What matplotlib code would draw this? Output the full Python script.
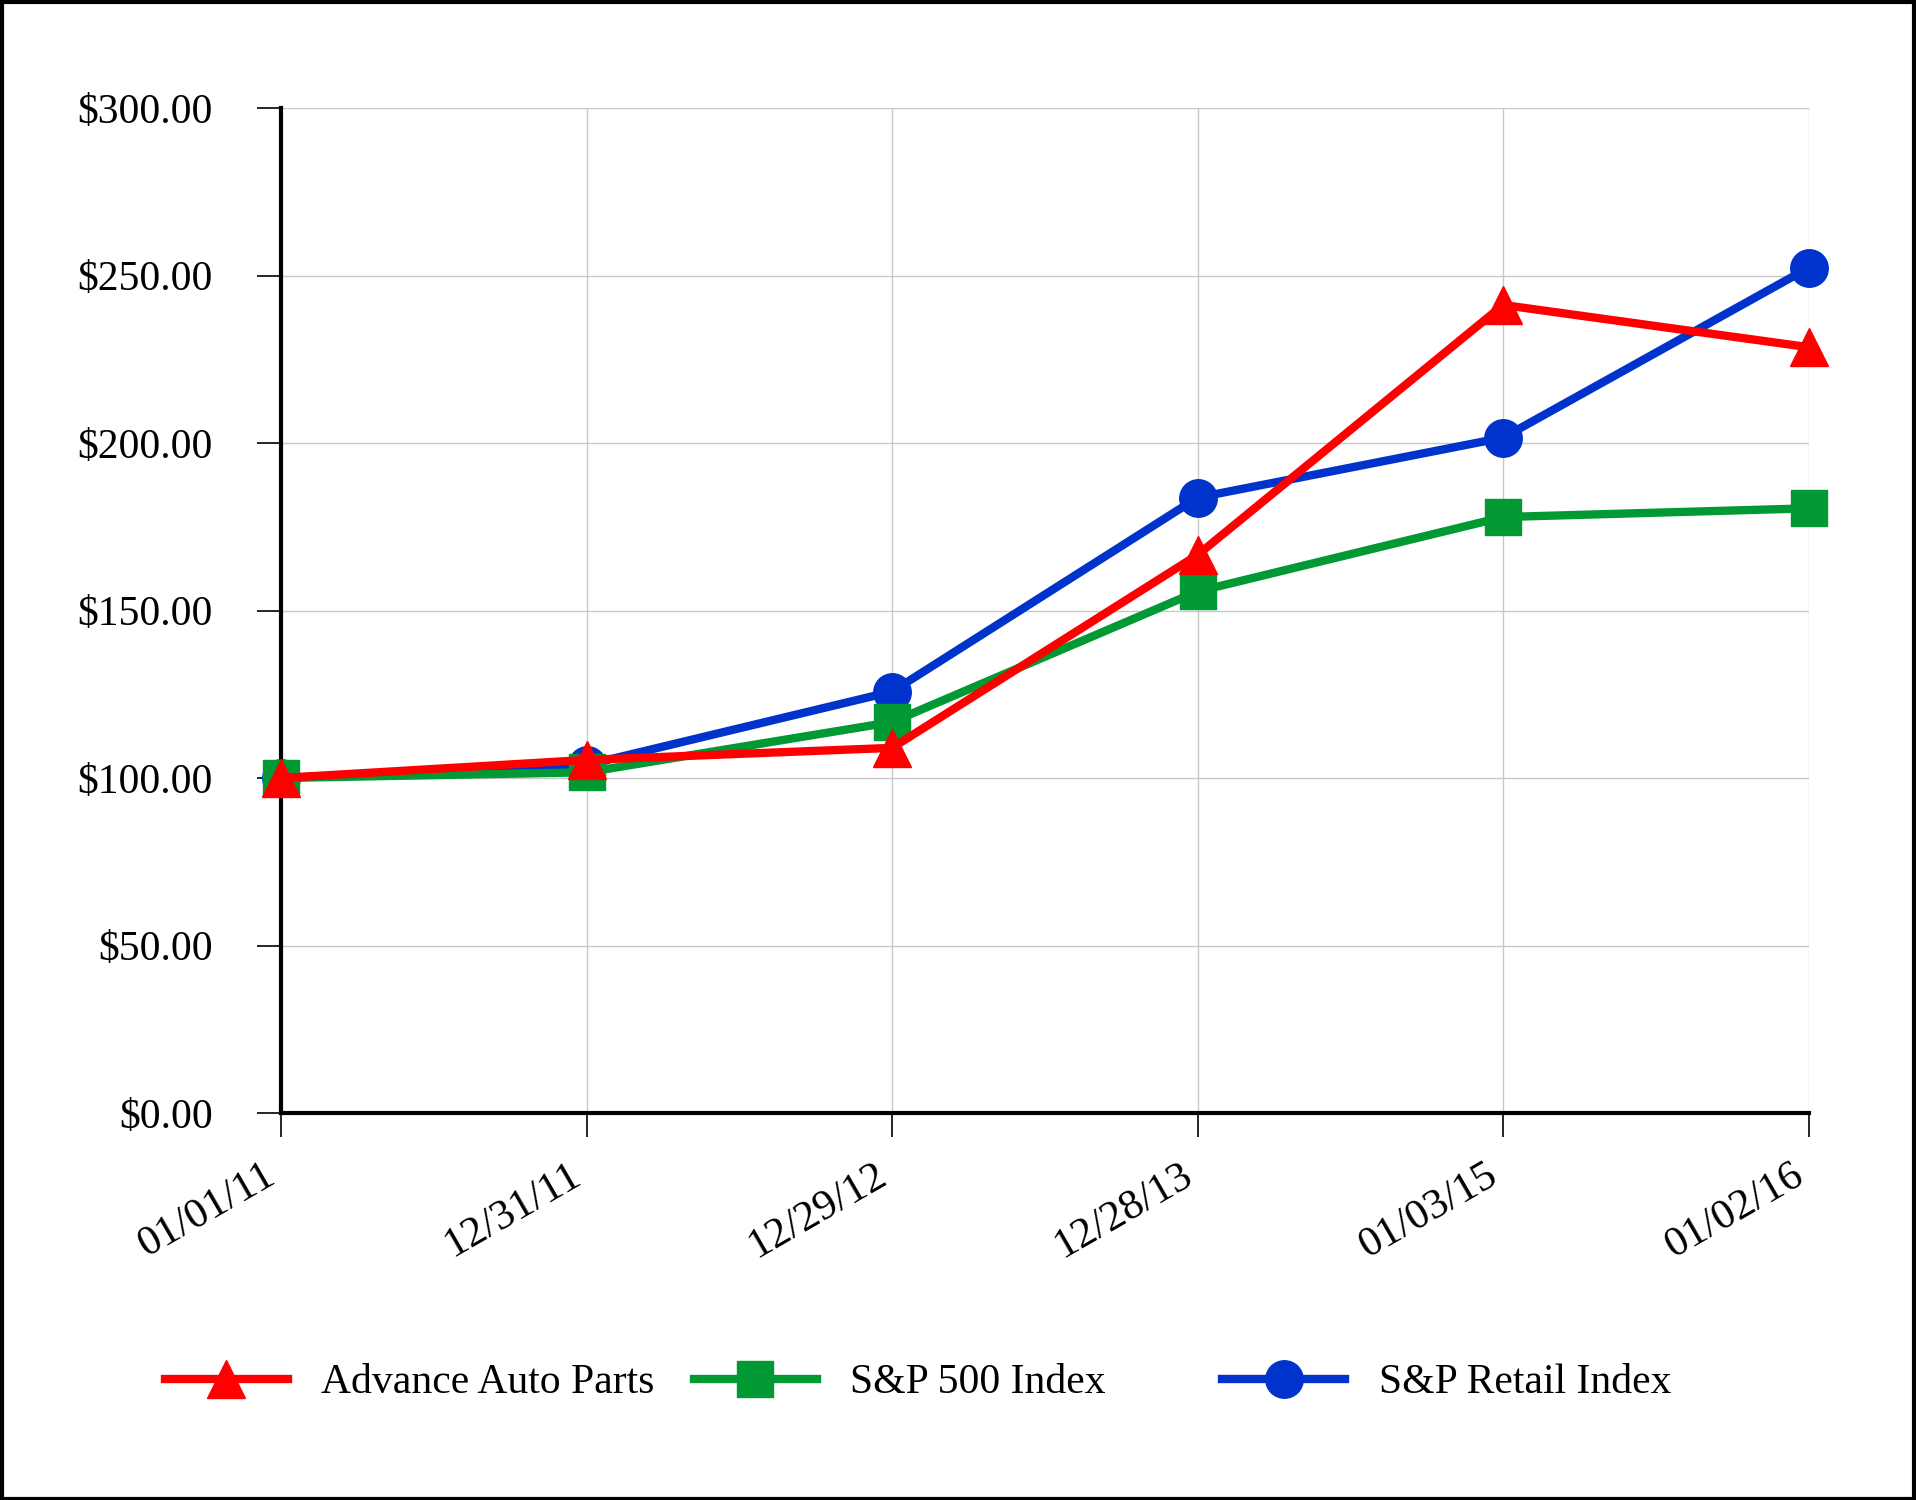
import matplotlib.pyplot as plt
import matplotlib.transforms as mtransforms
from matplotlib.patches import Rectangle

# dates on the x axis
dates = ['01/01/11', '12/31/11', '12/29/12', '12/28/13', '01/03/15', '01/02/16']

# values
advance = [100.0, 105.4, 109.0, 166.6, 241.2, 228.6]
sp500 = [100.0, 101.7, 116.7, 155.7, 177.9, 180.5]
retail = [100.0, 103.9, 125.8, 183.7, 201.6, 252.3]

yticks = [0, 50, 100, 150, 200, 250, 300]

plt.rcParams['font.family'] = ['Liberation Serif', 'DejaVu Serif']

fig = plt.figure(figsize=(19.16, 15), dpi=100)
ax = fig.add_axes([0.1467, 0.258, 0.7973, 0.67])

x = range(len(dates))
l3, = ax.plot(x, retail, color='#0033cc', lw=6, marker='o', ms=27, label='S&P Retail Index', clip_on=False, zorder=3)
l2, = ax.plot(x, sp500, color='#009933', lw=6, marker='s', ms=26, label='S&P 500 Index', clip_on=False, zorder=4)
l1, = ax.plot(x, advance, color='#ff0000', lw=6, marker='^', ms=28, label='Advance Auto Parts', clip_on=False, zorder=5)

ax.set_xlim(0, len(dates) - 1)
ax.set_ylim(0, 300)
ax.set_yticks(yticks)
ax.set_yticklabels(['$%.2f' % v for v in yticks], fontsize=30)
ax.set_xticks(list(x))
ax.set_xticklabels(dates, fontsize=31, rotation=30, ha='right', rotation_mode='anchor')

ax.grid(True, color='#c8c8c8', lw=1)
ax.set_axisbelow(True)
ax.spines['top'].set_visible(False)
ax.spines['right'].set_visible(False)
ax.spines['left'].set_linewidth(3)
ax.spines['bottom'].set_linewidth(3)
ax.tick_params(length=17, width=1.2, color='black')
ax.tick_params(axis='y', pad=32)
ax.tick_params(axis='x', pad=14)

# nudge the slanted date labels to the left a little
shift = mtransforms.ScaledTranslation(-0.18, 0, fig.dpi_scale_trans)
for lab in ax.get_xticklabels():
    lab.set_transform(lab.get_transform() + shift)

# three legend entries, evenly spaced
for line, xpos in zip([l1, l2, l3], [0.086, 0.362, 0.638]):
    fig.legend([line], [line.get_label()], loc='center left', bbox_to_anchor=(xpos, 0.078),
               frameon=False, fontsize=30, handlelength=2.95, handletextpad=0.8, borderpad=0,
               borderaxespad=0)

# border round the whole picture
fig.patches.append(Rectangle((0.001, 0.001), 0.998, 0.998, transform=fig.transFigure,
                             fill=False, edgecolor='black', lw=3))

fig.savefig('out.png', dpi=100)
